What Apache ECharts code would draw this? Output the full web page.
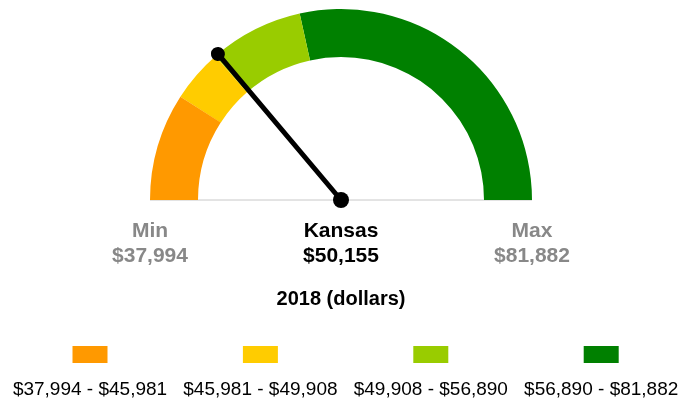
<!DOCTYPE html>
<html>
<head>
<meta charset="utf-8">
<script src="https://cdn.jsdelivr.net/npm/echarts@6/dist/echarts.min.js"></script>
<style>
* { margin: 0; padding: 0; }
html, body { width: 697px; height: 405px; background: #fff; }
</style>
</head>
<body>
<div id="gauge" style="width: 697px;height: 405px;"></div>
<script>
// data
var placeName = 'Kansas';
var placeValue = 50155;
var minValue = 37994;
var maxValue = 81882;
var bandBounds = [37994, 45981, 49908, 56890, 81882];
var bandColors = ['#ff9900', '#ffcc00', '#99cc00', '#008000'];
var unitLabel = '2018 (dollars)';

function money(v) {
  return '$' + v.toLocaleString('en-US');
}

var cx = 341, cy = 200, outerR = 191, ringW = 48;

var stops = [];
for (var i = 0; i < bandColors.length; i++) {
  stops.push([(bandBounds[i + 1] - minValue) / (maxValue - minValue), bandColors[i]]);
}

var graphics = [
  {type: 'line', shape: {x1: cx - outerR, y1: cy, x2: cx + outerR, y2: cy}, style: {stroke: '#c8c8c8', lineWidth: 1}, z: 1},
  {type: 'text', x: cx - outerR, y: 231, style: {text: 'Min', fill: '#888', font: 'bold 21px "Liberation Sans", Arial', align: 'center', verticalAlign: 'middle'}},
  {type: 'text', x: cx - outerR, y: 256, style: {text: money(minValue), fill: '#888', font: 'bold 21px "Liberation Sans", Arial', align: 'center', verticalAlign: 'middle'}},
  {type: 'text', x: cx + outerR, y: 231, style: {text: 'Max', fill: '#888', font: 'bold 21px "Liberation Sans", Arial', align: 'center', verticalAlign: 'middle'}},
  {type: 'text', x: cx + outerR, y: 256, style: {text: money(maxValue), fill: '#888', font: 'bold 21px "Liberation Sans", Arial', align: 'center', verticalAlign: 'middle'}},
  {type: 'text', x: cx, y: 299, style: {text: unitLabel, fill: '#000', font: 'bold 20px "Liberation Sans", Arial', align: 'center', verticalAlign: 'middle'}}
];

// legend swatches under the gauge
for (var j = 0; j < bandColors.length; j++) {
  var lx = 90 + j * 170.4;
  graphics.push({type: 'rect', shape: {x: lx - 17.5, y: 346, width: 35, height: 17}, style: {fill: bandColors[j]}});
  graphics.push({type: 'text', x: lx, y: 390, style: {
    text: money(bandBounds[j]) + ' - ' + money(bandBounds[j + 1]),
    fill: '#000', font: '19px "Liberation Sans", Arial', align: 'center', verticalAlign: 'middle'
  }});
}

var chart = echarts.init(document.getElementById('gauge'));
chart.setOption({
  animation: false,
  graphic: graphics,
  series: [{
    type: 'gauge',
    center: [cx, cy],
    radius: outerR,
    startAngle: 180,
    endAngle: 0,
    min: minValue,
    max: maxValue,
    axisLine: {lineStyle: {width: ringW, color: stops}},
    splitLine: {show: false},
    axisTick: {show: false},
    axisLabel: {show: false},
    pointer: {
      // needle with a dot at its tip
      icon: 'path://M0,7 A7,7 0 1,1 14,7 A7,7 0 1,1 0,7 Z M4.5,7 L9.5,7 L9.5,198 L4.5,198 Z',
      length: outerR + 7,
      width: 14,
      itemStyle: {color: '#000'}
    },
    anchor: {show: true, showAbove: true, size: 16, itemStyle: {color: '#000'}},
    title: {offsetCenter: [0, 31], fontSize: 21, fontWeight: 'bold', color: '#000', fontFamily: 'Liberation Sans'},
    detail: {
      offsetCenter: [0, 56], fontSize: 21, fontWeight: 'bold', color: '#000', fontFamily: 'Liberation Sans',
      formatter: function (v) { return money(v); }
    },
    data: [{value: placeValue, name: placeName}]
  }]
});
</script>
</body>
</html>
